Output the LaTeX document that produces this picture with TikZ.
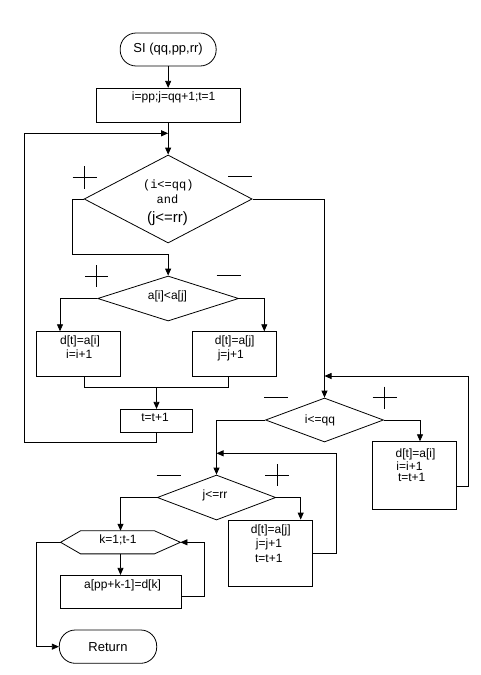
\documentclass[tikz,border=0pt]{standalone}
\usepackage{fontspec}
\setmainfont{Liberation Sans}
\newfontfamily\monofont{Liberation Mono}
\usetikzlibrary{shapes.geometric,arrows.meta}
\begin{document}
\begin{tikzpicture}[x=1pt,y=-1pt,
  line width=0.8pt,
  arr/.style={-{Triangle[length=7pt,width=6pt]}},
  blk/.style={draw, rectangle, inner sep=0pt},
  dia/.style={draw, diamond, inner sep=0pt},
  term/.style={draw, rectangle, rounded corners=16pt, inner sep=0pt, font=\fontsize{13}{15}\selectfont},
  txt/.style={anchor=base, inner sep=0pt, font=\fontsize{12}{14}\selectfont},
  mtxt/.style={anchor=base, inner sep=0pt, font=\monofont\fontsize{12}{14}\selectfont}]
\useasboundingbox (0,0) rectangle (481,675);
\fill[white] (0,0) rectangle (481,675);

% nodes
\node[term, minimum width=96pt, minimum height=33pt] (start) at (168.15,49.5) {SI (qq,pp,rr)};
\node[blk, minimum width=143.7pt, minimum height=33.7pt] (b1) at (168.15,105.15) {};
\node[txt] (t1) at (173.7,100.5) {i=pp;j=qq+1;t=1};
\coordinate (j1) at (168.15,133.3);

\node[dia, minimum width=168pt, minimum height=88pt] (d1) at (168.15,199) {};
\node[mtxt] (t2a) at (168.3,188.5) {(i<=qq)};
\node[mtxt] (t2b) at (167.5,203.3) {and};
\node[txt, font=\fontsize{15}{17}\selectfont] (t2c) at (167.5,222) {(j<=rr)};

\node[dia, minimum width=141pt, minimum height=45pt] (d2) at (168.15,298.5) {};
\node[txt] (t3) at (167.5,299.5) {a[i]<a[j]};

\node[blk, minimum width=84.7pt, minimum height=45pt] (bL) at (78.35,354.2) {};
\node[txt] (t4a) at (80,344) {d[t]=a[i]};
\node[txt] (t4b) at (79.2,358.3) {i=i+1};

\node[blk, minimum width=83.7pt, minimum height=45pt] (bR) at (234.15,354.2) {};
\node[txt] (t5a) at (234.7,344) {d[t]=a[j]};
\node[txt] (t5b) at (230.8,358.3) {j=j+1};

\node[blk, minimum width=71.6pt, minimum height=23.4pt] (bT) at (156.5,421) {};
\node[txt] (t6) at (155,421.7) {t=t+1};

\node[dia, minimum width=118pt, minimum height=44pt] (d3) at (324.5,420) {};
\node[txt] (t7) at (320,423) {i<=qq};

\node[blk, minimum width=84.4pt, minimum height=67.3pt] (bD3) at (414.5,475.35) {};
\node[txt] (t8a) at (415.5,457) {d[t]=a[i]};
\node[txt] (t8b) at (409.5,470) {i=i+1};
\node[txt] (t8c) at (411.7,481.7) {t=t+1};

\node[dia, minimum width=118.5pt, minimum height=45pt] (d4) at (216.5,497.5) {};
\node[txt] (t9) at (215,498) {j<=rr};

\node[blk, minimum width=84.4pt, minimum height=66pt] (bD4) at (270.5,553) {};
\node[txt] (t10a) at (270.8,533.5) {d[t]=a[j]};
\node[txt] (t10b) at (269,547.5) {j=j+1};
\node[txt] (t10c) at (268.8,562.7) {t=t+1};

\node[minimum width=119pt, minimum height=22.3pt, inner sep=0pt] (hex) at (120.5,542.3) {};
\draw (hex.west) -- ([xshift=20pt]hex.north west) -- ([xshift=-26pt]hex.north east)
  -- (hex.east) -- ([xshift=-26pt]hex.south east) -- ([xshift=20pt]hex.south west) -- cycle;
\node[txt] (t11) at (118,543.3) {k=1;t-1};

\node[blk, minimum width=121pt, minimum height=33pt] (bA) at (120.5,591.8) {};
\node[txt] (t12) at (122.5,588) {a[pp+k-1]=d[k]};

\node[term, minimum width=97.4pt, minimum height=33.3pt] (ret) at (108,646.65) {Return};

% connectors
\draw[arr] (start.south) -- (b1.north);
\draw[arr] (b1.south) -- (d1.north);
\coordinate (c1) at (72.7,254.3);
\draw[arr] (d1.west) -| (c1) -| (d2.north);
\draw[arr] (d1.east) -| (d3.north);
\draw[arr] (d2.west) -| ([xshift=-18.35pt]bL.north);
\draw[arr] (d2.east) -| ([xshift=30.15pt]bR.north);
\coordinate (m) at (156.5,387.3);
\draw ([xshift=6pt]bL.south) |- (m) -| ([xshift=-5.85pt]bR.south);
\draw[arr] (m) -- (bT.north);
\coordinate (c3) at (24,442);
\draw[arr] (bT.south) |- (c3) |- (j1);

\draw[arr] (d3.east) -| ([xshift=5.5pt]bD3.north);
\coordinate (j3) at (324.5,376);
\coordinate (c4) at (468.3,486.7);
\draw[arr] (bD3.east |- c4) -- (c4) |- (j3);
\draw[arr] (d3.west) -| (d4.north);

\draw[arr] (d4.east) -| ([xshift=30.2pt]bD4.north);
\coordinate (j4) at (216.5,453.3);
\coordinate (c5) at (336.7,553.3);
\draw[arr] (bD4.east |- c5) -- (c5) |- (j4);
\draw[arr] (d4.west) -| (hex.north);
\draw[arr] (hex.south) -- (bA.north);
\coordinate (c6) at (204.3,596.7);
\draw[arr] (bA.east |- c6) -- (c6) |- (hex.east);
\coordinate (c7) at (36,646.65);
\draw[arr] (hex.west) -| (c7) -- (ret.west);

% plus / minus marks
\draw (72.7,177.3) -- (96.7,177.3) (84.7,166) -- (84.7,188.5);
\draw (228,176.7) -- (252,176.7);
\draw (85,276) -- (108.3,276) (96.7,265) -- (96.7,287);
\draw (216.7,275.7) -- (240.7,275.7);
\draw (264,397.7) -- (288.3,397.7);
\draw (372.7,397.7) -- (396.7,397.7) (384.7,386.7) -- (384.7,409.3);
\draw (156.7,475) -- (181,475);
\draw (265,475) -- (289,475) (277,464) -- (277,486);
\end{tikzpicture}
\end{document}
